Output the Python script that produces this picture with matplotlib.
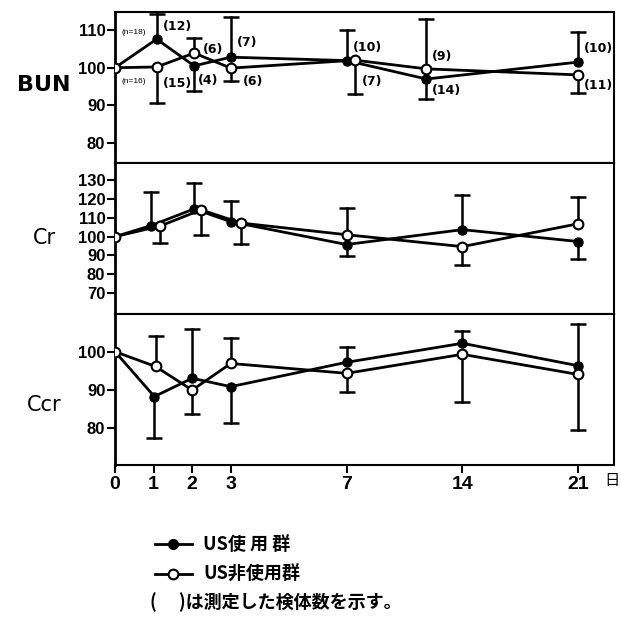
import numpy as np
import matplotlib
matplotlib.use("Agg")
import matplotlib.pyplot as plt
from matplotlib.lines import Line2D

# ---------------- data ----------------
days = [0, 1, 2, 3, 7, 14, 21]
day_labels = ["0", "1", "2", "3", "7", "14", "21"]

nan = np.nan
# BUN (%)
bun_us = [100, 107.6, 100.5, 102.8, 101.9, 97.0, 101.5]
bun_us_up = [nan, 114.3, nan, 113.4, 109.9, nan, 109.5]
bun_us_dn = [nan, nan, 93.7, nan, nan, 91.8, nan]
bun_non = [100, 100.2, 103.9, 99.9, 102.0, 99.7, 98.1]
bun_non_up = [nan, nan, 107.9, nan, nan, 113.0, nan]
bun_non_dn = [nan, 90.6, nan, 96.4, 93.0, nan, 93.3]

# Cr (%)
cr_us = [100, 105.8, 114.7, 107.9, 95.8, 103.7, 97.4]
cr_us_up = [nan, 123.7, 128.4, 118.9, nan, 122.0, nan]
cr_us_dn = [nan, nan, nan, nan, 89.5, nan, 88.0]
cr_non = [100, 105.6, 114.2, 107.2, 101.0, 94.7, 106.8]
cr_non_up = [nan, nan, nan, nan, 115.3, nan, 121.0]
cr_non_dn = [nan, 96.8, 101.0, 96.3, nan, 84.7, nan]

# Ccr (%)
ccr_us = [100, 88.2, 93.0, 90.8, 97.2, 102.2, 96.3]
ccr_us_up = [nan, nan, 106.0, nan, 101.1, 105.4, 107.3]
ccr_us_dn = [nan, 77.4, nan, 81.2, nan, nan, nan]
ccr_non = [100, 96.1, 89.9, 96.9, 94.3, 99.3, 94.0]
ccr_non_up = [nan, 104.2, nan, 103.7, nan, nan, nan]
ccr_non_dn = [nan, nan, 83.5, nan, 89.5, 86.8, 79.4]

# sample-size labels (BUN panel)
n_labels = ["(n=18)", "(n=16)", "(12)", "(15)", "(6)", "(4)", "(7)", "(6)",
            "(10)", "(7)", "(9)", "(14)", "(10)", "(11)"]

panel_names = ["BUN", "Cr", "Ccr"]
bun_ticks = [80, 90, 100, 110]
cr_ticks = [70, 80, 90, 100, 110, 120, 130]
ccr_ticks = [80, 90, 100]

legend_us = "US使 用 群"
legend_non = "US非使用群"
note = "(　 )は測定した検体数を示す。"
day_unit = "日"

# ---------------- layout ----------------
W, H = 621, 633
fig = plt.figure(figsize=(W / 100, H / 100), dpi=100)

# axis position of each day (broken time scale)
day_pos = {0: 0, 1: 1, 2: 2, 3: 3, 7: 6, 14: 9, 21: 12}
xmax = 12.93

# small horizontal shifts of markers, in axis units (as drawn in original)
offs = {
    "BUN": ([0, 0.08, 0.05, 0, 0, -0.93, 0], [0, 0.08, 0.05, 0, 0.22, -0.93, 0]),
    "Cr": ([0, -0.07, 0.05, 0, 0, 0, 0], [0, 0.17, 0.23, 0.26, 0, 0, 0]),
    "Ccr": ([0, 0.02, 0, 0, 0, 0, 0], [0, 0.05, 0, 0, 0, 0, 0]),
}

left_px, right_px = 115, 614
panel_px = [(12, 163), (163, 314), (314, 465)]
ylims = [(74.7, 114.8), (59.0, 139.0), (70.2, 109.9)]
yticks_all = [bun_ticks, cr_ticks, ccr_ticks]
series = [
    (bun_us, bun_us_up, bun_us_dn, bun_non, bun_non_up, bun_non_dn),
    (cr_us, cr_us_up, cr_us_dn, cr_non, cr_non_up, cr_non_dn),
    (ccr_us, ccr_us_up, ccr_us_dn, ccr_non, ccr_non_up, ccr_non_dn),
]
label_ypx = [85, 238, 405]
label_weight = ["bold", "medium", "medium"]

num_font = ["Liberation Sans", "DejaVu Sans"]
ann_font = ["DejaVu Sans"]
cjk_font = ["Noto Sans CJK JP", "DejaVu Sans"]

LW = 2.0
cap_ms = 11

def draw_series(ax, xs, vals, ups, dns, filled):
    xs = np.asarray(xs, float)
    vals = np.asarray(vals, float)
    ups = np.asarray(ups, float)
    dns = np.asarray(dns, float)
    ax.plot(xs, vals, color="black", lw=LW, zorder=3, solid_joinstyle="round")
    for x, v, u, d in zip(xs, vals, ups, dns):
        for c in (u, d):
            if not np.isnan(c):
                ax.plot([x, x], [v, c], color="black", lw=1.8, zorder=2)
                ax.plot([x], [c], marker="_", ms=cap_ms, mew=1.8, color="black", zorder=2)
    if filled:
        ax.plot(xs, vals, ls="none", marker="o", ms=6.5, mfc="black", mec="black",
                zorder=5)
    else:
        ax.plot(xs, vals, ls="none", marker="o", ms=7, mfc="white", mec="black",
                mew=1.5, zorder=6)

axes = []
for i, ((t, b), ylim, yt, ser, name) in enumerate(zip(panel_px, ylims, yticks_all, series, panel_names)):
    ax = fig.add_axes([left_px / W, 1 - b / H, (right_px - left_px) / W, (b - t) / H])
    ax.set_xlim(0, xmax)
    ax.set_ylim(*ylim)
    ax.set_yticks(yt)
    ax.set_yticklabels([str(v) for v in yt], fontfamily=num_font, fontweight="bold",
                       fontsize=12)
    ax.tick_params(axis="y", direction="out", length=6, width=1.5, pad=1)
    for s in ax.spines.values():
        s.set_linewidth(1.5)
    ax.spines["left"].set_linewidth(2.0)
    xpos = [day_pos[d] for d in days]
    if i < 2:
        ax.set_xticks([])
    else:
        ax.set_xticks(xpos)
        ax.set_xticklabels(day_labels, fontfamily=num_font, fontweight="bold", fontsize=14)
        ax.tick_params(axis="x", direction="out", length=6, width=1.5, pad=2)
    us, us_up, us_dn, non, non_up, non_dn = ser
    o_us, o_non = offs[name]
    draw_series(ax, np.add(xpos, o_non), non, non_up, non_dn, filled=False)
    draw_series(ax, np.add(xpos, o_us), us, us_up, us_dn, filled=True)
    fig.text(44 / W, 1 - label_ypx[i] / H, name, ha="center", va="center",
             fontsize=16 if i == 0 else 15, fontweight=label_weight[i],
             fontfamily=["DejaVu Sans"])
    axes.append(ax)

# sample-size annotations in BUN panel
n_pos = [(0.18, 109.3), (0.18, 96.3), (1.24, 110.9), (1.24, 95.8), (2.28, 104.8),
         (2.15, 96.6), (3.16, 106.6), (3.32, 96.3), (6.17, 105.3), (6.40, 96.3),
         (8.21, 102.9), (8.21, 93.9), (12.15, 105.0), (12.15, 95.2)]
for txt, (x, y) in zip(n_labels, n_pos):
    small = txt.startswith("(n")
    axes[0].text(x, y, txt, ha="left", va="center", fontsize=6 if small else 9,
                 fontfamily=num_font if small else ann_font,
                 fontweight="normal" if small else "bold", zorder=7)

fig.text(612 / W, 1 - 481 / H, day_unit, ha="center", va="center", fontsize=11,
         fontfamily=cjk_font)

# legend drawn in figure coordinates
for row_y, filled, label in [(544, True, legend_us), (574, False, legend_non)]:
    yf = 1 - row_y / H
    fig.add_artist(Line2D([155 / W, 192 / W], [yf, yf], color="black", lw=2.0,
                          transform=fig.transFigure))
    fig.add_artist(Line2D([173 / W], [yf], ls="none", marker="o",
                          ms=6.5 if filled else 7,
                          mfc="black" if filled else "white", mec="black", mew=1.5,
                          transform=fig.transFigure))
    fig.text(203 / W, yf, label, ha="left", va="center", fontsize=13,
             fontweight="bold", fontfamily=cjk_font)
fig.text(150 / W, 1 - 602 / H, note, ha="left", va="center", fontsize=13,
         fontweight="bold", fontfamily=cjk_font)

fig.savefig("out.png", dpi=100)
